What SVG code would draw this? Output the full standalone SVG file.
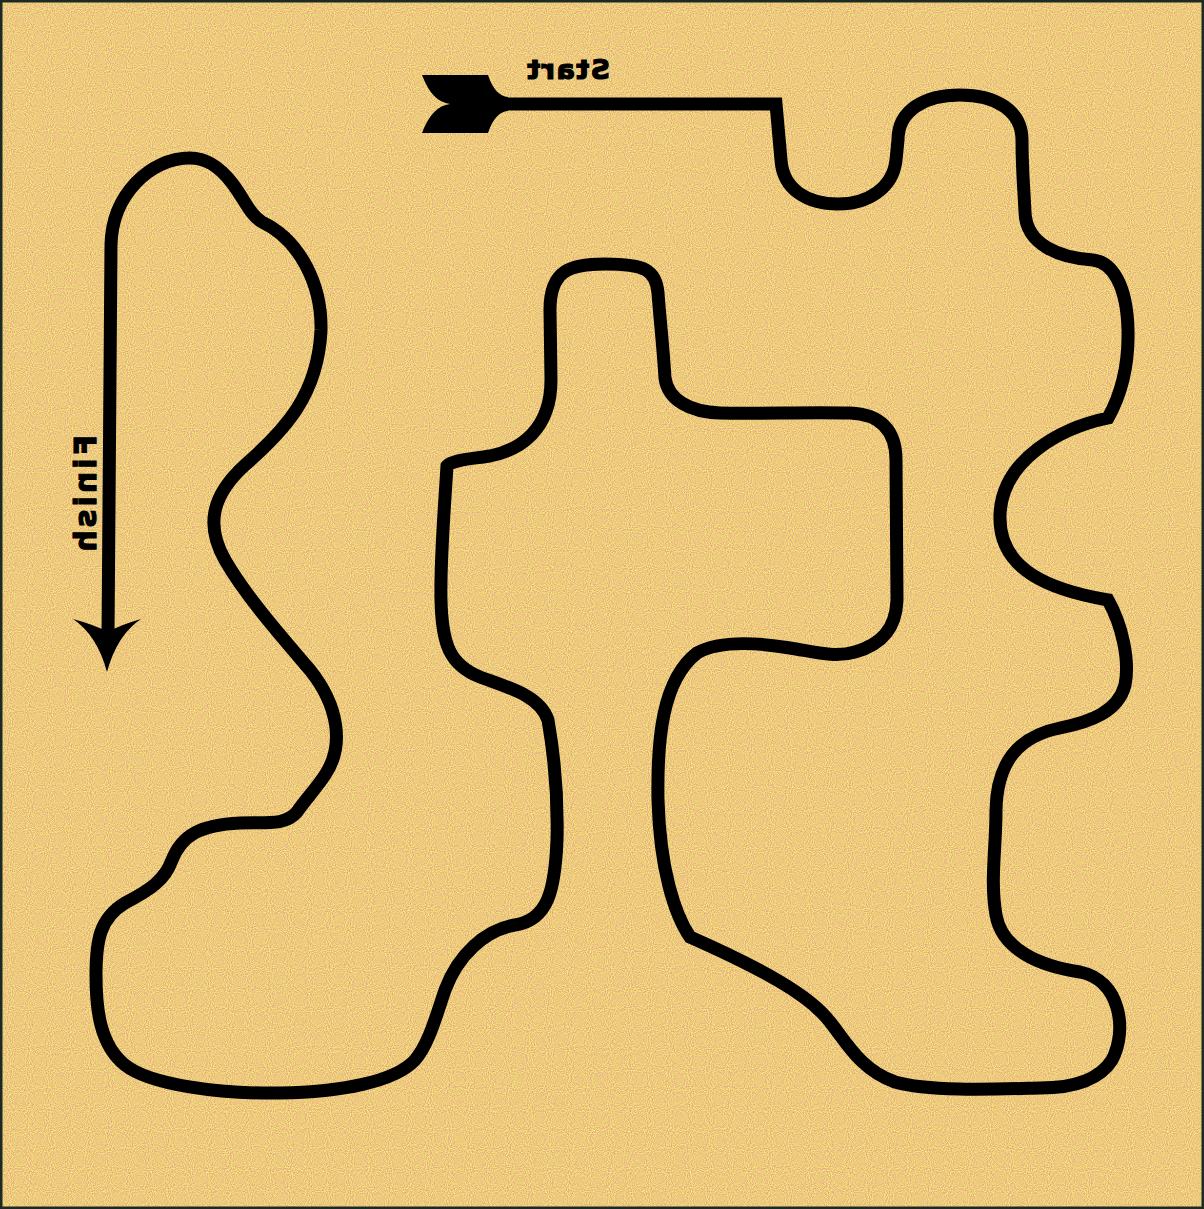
<svg xmlns="http://www.w3.org/2000/svg" width="1204" height="1209" viewBox="0 0 1204 1209">
<defs>
<filter id="sand" x="0" y="0" width="1204" height="1209" filterUnits="userSpaceOnUse" color-interpolation-filters="sRGB">
<feTurbulence type="fractalNoise" baseFrequency="0.95" numOctaves="1" seed="3" result="n"/>
<feColorMatrix in="n" type="matrix" values="0 0 0 0 0.93  0.7 0 0 0 0.44  -0.35 0 0 0 0.67  0 0 0 0 1"/>
</filter>
<style>
.track{fill:none;stroke:#000;stroke-width:13;stroke-linejoin:miter;stroke-linecap:butt}
.head{fill:#000;stroke:none}
.lbl{font-family:"DejaVu Sans","Liberation Sans",sans-serif;font-weight:bold;fill:#000;stroke:#000;stroke-width:1.2}
</style>
</defs>
<g id="background">
<rect x="0" y="0" width="1204" height="1209" fill="#EDC581"/>
<rect x="0" y="0" width="1204" height="1209" filter="url(#sand)"/>
<rect x="1" y="1" width="1202" height="1207" fill="none" stroke="#1c2a22" stroke-width="3"/>
</g>
<g id="connectors">
<path id="track" class="track" d="M500,104 L776,104 L781,160 C783,190 808,204 838,204 C868,204 893,188 896,160 L898,140 C898,110 925,95 960,95 C995,95 1022,110 1022,140 C1022,170 1024,190 1025,212 C1026,245 1060,258 1093,260 C1112,262 1127,285 1128,330 C1129,370 1118,400 1108,418 C1060,428 1002,460 1000,515 C998,570 1050,590 1108,600 C1122,625 1130,660 1125,685 C1118,712 1090,722 1060,728 C1020,736 997,760 996,810 C996,850 990,880 996,915 C1002,950 1040,966 1080,972 C1120,980 1128,1030 1112,1060 C1098,1082 1070,1088 1040,1088 C1000,1089 930,1092 895,1082 C860,1070 845,1040 830,1022 C810,995 760,968 690,937 C675,915 660,870 658,800 C657,740 662,680 697,653 C720,640 760,643 790,648 C815,652 835,658 855,652 C880,645 896,630 897,600 L896,460 C896,430 880,414 850,413 C800,412 760,414 720,413 C690,412 668,400 665,378 C663,345 660,320 658,293 C656,270 645,264 605,264 C570,264 550,270 550,310 L551,380 C551,430 520,450 490,456 C470,459 452,460 447,466 C445,500 440,560 441,600 C442,645 450,665 480,677 C510,688 540,696 548,720 C555,760 558,800 557,840 C555,890 548,920 515,925 C485,930 458,955 445,990 C435,1020 428,1045 415,1060 C395,1082 340,1092 280,1093 C220,1094 150,1085 125,1065 C100,1045 96,1010 96,975 C96,940 100,918 125,903 C150,890 165,880 172,860 C182,835 200,825 240,823 C265,822 285,826 297,812 C305,800 315,790 325,775 C345,745 338,705 310,670 C280,635 245,595 225,560 C205,525 212,495 245,465 C285,430 318,395 321,330 C322,285 300,240 262,222 C250,215 245,200 232,183 C218,165 205,158 190,158 C150,158 112,195 111,245 L108,636"/>
</g>
<g id="start">
<path class="head" d="M422,75 L488,75 Q495,96 508,97 L508,111 Q495,112 488,133 L422,133 Q432,106 450,104 Q432,102 422,75 Z"/>
<text class="lbl" font-size="27" letter-spacing="1.5" transform="translate(610,79) scale(-1,1)">Start</text>
</g>
<g id="finish">
<path class="head" d="M107,672 Q97,635 73,619 Q95,625 108,632 Q120,625 141,619 Q117,635 107,672 Z"/>
<text class="lbl" font-size="30" letter-spacing="3" transform="matrix(0 1 1 0 96 435)">Finish</text>
</g>
</svg>
